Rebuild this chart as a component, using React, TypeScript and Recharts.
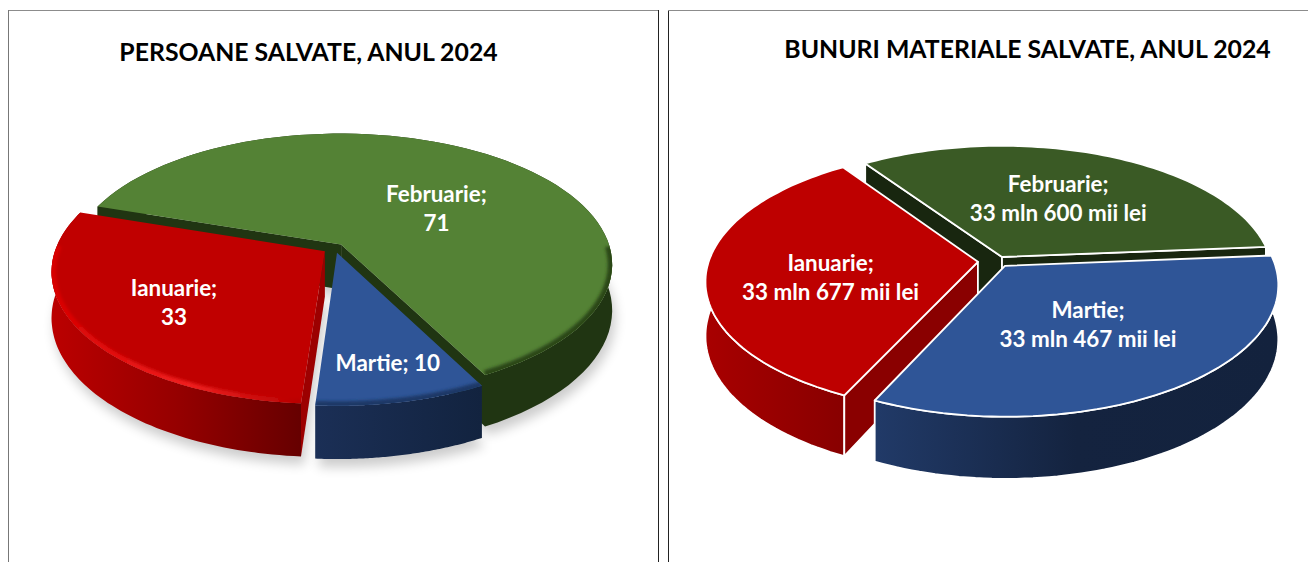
import { PieChart, Pie } from "recharts";

// left chart: persoane salvate
const categories = ["Ianuarie", "Februarie", "Martie"];
const persoane = [33, 71, 10];
const persoaneLabels = [["Ianuarie;", "33"], ["Februarie;", "71"], ["Martie; 10"]];

// right chart: bunuri materiale, in mii lei
const bunuri = [33677, 33600, 33467];
const bunuriLabels = [
  ["Ianuarie;", "33 mln 677 mii lei"],
  ["Februarie;", "33 mln 600 mii lei"],
  ["Martie;", "33 mln 467 mii lei"],
];

// back to front
const drawOrder = ["Februarie", "Ianuarie", "Martie"];

const FONT = "Lato, Carlito, sans-serif";
const RAD = Math.PI / 180;

type Look = {
  squash: number;
  persp: number;
  depth: number;
  explode: Record<string, number>;
  top: Record<string, string>;
  side: Record<string, string>;
  radial: Record<string, string>;
  labelR: Record<string, number>;
  labelNudge: Record<string, [number, number]>;
  labelLines: Record<string, string[]>;
  lineGap: number;
  outline?: string;
  bevel: boolean;
  shadow: boolean;
  id: string;
};

const toRecord = <T,>(vals: T[]) => Object.fromEntries(categories.map((c, i) => [c, vals[i]])) as Record<string, T>;

const leftLook: Look = {
  id: "l",
  squash: 0.478,
  persp: 0.15,
  depth: 45,
  explode: toRecord([0.045, 0.035, 0.037]),
  top: toRecord(["#C00000", "#548235", "#2F5597"]),
  side: toRecord(["url(#lSideRed)", "#203512", "url(#lSideBlue)"]),
  radial: toRecord(["#9c0000", "#203512", "#162a4c"]),
  labelR: toRecord([0.68, 0.52, 0.8]),
  labelNudge: toRecord<[number, number]>([[0, 4], [16, 10], [3, 2]]),
  labelLines: toRecord(persoaneLabels),
  lineGap: 29,
  bevel: true,
  shadow: true,
};

const rightLook: Look = {
  id: "r",
  squash: 0.476,
  persp: 0.142,
  depth: 53,
  explode: toRecord([0.075, 0.035, 0.045]),
  top: toRecord(["#BE0000", "#3A5A25", "#2F5597"]),
  side: toRecord(["url(#rSideRed)", "#18260f", "url(#rSideBlue)"]),
  radial: toRecord(["#8a0000", "#18260f", "#14233f"]),
  labelR: toRecord([0.62, 0.56, 0.56]),
  labelNudge: toRecord<[number, number]>([[0, 11], [0, -1], [-2, 2]]),
  labelLines: toRecord(bunuriLabels),
  lineGap: 29,
  outline: "#ffffff",
  bevel: false,
  shadow: false,
};

const rimColors = toRecord(["url(#lRimRed)", "#2c4619", "#1d3766"]);

function pathOf(pts: number[][]) {
  return "M" + pts.map((p) => `${p[0].toFixed(1)} ${p[1].toFixed(1)}`).join("L") + "Z";
}

// draws one slice as a tilted disc sector with side walls
function sliceShape(look: Look, pass: string) {
  return (props: any) => {
    const { cx, cy, outerRadius: R, startAngle, endAngle, name, payload } = props;
    const cat = name ?? payload?.name;
    const e = look.explode[cat];
    const mid = ((startAngle + endAngle) / 2) * RAD;
    const ox = e * Math.cos(mid);
    const oy = -e * Math.sin(mid);
    const proj = (u: number, v: number, z = 0) => {
      const d = 1 - look.persp * v;
      return [cx + (R * u) / d, cy + (R * look.squash * v) / d + z / d];
    };
    const arc: number[][] = [];
    const arcLow: number[][] = [];
    const front: number[][] = [];
    const n = 80;
    for (let i = 0; i <= n; i++) {
      const a = (startAngle + ((endAngle - startAngle) * i) / n) * RAD;
      const u = ox + Math.cos(a);
      const v = oy - Math.sin(a);
      arc.push(proj(u, v));
      arcLow.push(proj(u, v, look.depth));
      if (v > -0.02) front.push(proj(u, v));
    }
    const tip = proj(ox, oy);
    const tipLow = proj(ox, oy, look.depth);

    if (pass === "shadow") {
      const shifted = [tipLow, ...arcLow].map((p) => [p[0] + 3, p[1] + 8]);
      return <path d={pathOf(shifted)} fill="#000" opacity={0.2} filter="url(#soft)" />;
    }
    if (pass === "label") {
      const lines = look.labelLines[cat];
      const r = look.labelR[cat];
      const [lx, ly] = proj(r * Math.cos(mid), -r * Math.sin(mid));
      const [nx, ny] = look.labelNudge[cat];
      return (
        <text
          x={lx + nx}
          y={ly + ny - ((lines.length - 1) * look.lineGap) / 2 + 7}
          textAnchor="middle"
          fill="#ffffff"
          fontFamily={FONT}
          fontWeight={700}
          fontSize={22.4}
        >
          {lines.map((t, i) => (
            <tspan key={t} x={lx + nx} dy={i === 0 ? 0 : look.lineGap}>
              {t}
            </tspan>
          ))}
        </text>
      );
    }
    if (pass !== cat) return <g />;
    const stroke = look.outline ? { stroke: look.outline, strokeWidth: 1.8, strokeLinejoin: "round" as const } : {};
    // a cut face only shows when it looks towards the viewer
    const startVisible = Math.cos(startAngle * RAD) < 0;
    const endVisible = Math.cos(endAngle * RAD) > 0;
    const clipId = `top-${look.id}-${cat}`;
    const topPath = pathOf([tip, ...arc]);
    return (
      <g>
        <path d={pathOf([...arc, ...arcLow.slice().reverse()])} fill={look.side[cat]} {...stroke} />
        {startVisible && <path d={pathOf([tip, arc[0], arcLow[0], tipLow])} fill={look.radial[cat]} {...stroke} />}
        {endVisible && <path d={pathOf([tip, arc[n], arcLow[n], tipLow])} fill={look.radial[cat]} {...stroke} />}
        <path d={topPath} fill={look.top[cat]} {...stroke} />
        {look.bevel && front.length > 1 && (
          <g clipPath={`url(#${clipId})`}>
            <clipPath id={clipId}>
              <path d={topPath} />
            </clipPath>
            <path
              d={"M" + front.map((p) => `${p[0].toFixed(1)} ${p[1].toFixed(1)}`).join("L")}
              fill="none"
              stroke={rimColors[cat]}
              strokeWidth={9}
              filter="url(#rim)"
            />
          </g>
        )}
      </g>
    );
  };
}

const Defs = () => (
  <defs>
    <filter id="soft" filterUnits="userSpaceOnUse" x="0" y="0" width="660" height="562">
      <feGaussianBlur stdDeviation="6" />
    </filter>
    <filter id="rim" filterUnits="userSpaceOnUse" x="0" y="0" width="660" height="562">
      <feGaussianBlur stdDeviation="1.6" />
    </filter>
    <linearGradient id="lSideRed" x1="0" x2="1" y1="0" y2="0">
      <stop offset="0" stopColor="#bb0000" />
      <stop offset="0.5" stopColor="#960000" />
      <stop offset="1" stopColor="#660000" />
    </linearGradient>
    <linearGradient id="lRimRed" x1="0" x2="1" y1="0" y2="0">
      <stop offset="0" stopColor="#d80000" />
      <stop offset="0.55" stopColor="#f02020" />
      <stop offset="1" stopColor="#b80000" />
    </linearGradient>
    <linearGradient id="lSideBlue" x1="0" x2="1" y1="0" y2="0">
      <stop offset="0" stopColor="#1b2f56" />
      <stop offset="1" stopColor="#12233f" />
    </linearGradient>
    <linearGradient id="rSideRed" x1="0" x2="1" y1="0" y2="0">
      <stop offset="0" stopColor="#a80000" />
      <stop offset="1" stopColor="#880000" />
    </linearGradient>
    <linearGradient id="rSideBlue" x1="0" x2="1" y1="0" y2="0">
      <stop offset="0" stopColor="#213a68" />
      <stop offset="0.5" stopColor="#14233f" />
      <stop offset="1" stopColor="#13223d" />
    </linearGradient>
  </defs>
);

function Pie3D({
  values,
  look,
  title,
  titleX,
  titleY,
  width,
  cx,
  cy,
  startAngle,
}: {
  values: number[];
  look: Look;
  title: string;
  titleX: number;
  titleY: number;
  width: number;
  cx: number;
  cy: number;
  startAngle: number;
}) {
  const data = categories.map((name, i) => ({ name, value: values[i] }));
  const passes = [...(look.shadow ? ["shadow"] : []), ...drawOrder, "label"];
  return (
    <PieChart width={width} height={562} margin={{ top: 0, right: 0, bottom: 0, left: 0 }}>
      <Defs />
      {passes.map((pass) => (
        <Pie
          key={pass}
          data={data}
          dataKey="value"
          nameKey="name"
          cx={cx}
          cy={cy}
          outerRadius={269}
          startAngle={startAngle}
          endAngle={startAngle - 360}
          stroke="none"
          isAnimationActive={false}
          shape={sliceShape(look, pass)}
        />
      ))}
      <text x={titleX} y={titleY} textAnchor="middle" fontFamily={FONT} fontWeight={700} fontSize={24.8} fill="#000">
        {title}
      </text>
    </PieChart>
  );
}

const line = (left: number, top: number, w: number, h: number, background: string) => (
  <div style={{ position: "absolute", left, top, width: w, height: h, background }} />
);

export default function App() {
  return (
    <div style={{ position: "absolute", left: 0, top: 0, width: 1308, height: 562, overflow: "hidden", background: "#fff" }}>
      {line(8, 10, 650, 1, "#8c8c8c")}
      {line(8, 10, 1, 552, "#777")}
      {line(658, 10, 1, 552, "#222")}
      {line(668, 10, 1, 552, "#222")}
      {line(668, 10, 640, 1, "#8c8c8c")}
      <div style={{ position: "absolute", left: 0, top: 0 }}>
        <Pie3D
          values={persoane}
          look={leftLook}
          title="PERSOANE SALVATE, ANUL 2024"
          titleX={308.5}
          titleY={61}
          width={660}
          cx={335}
          cy={248}
          startAngle={266}
        />
      </div>
      <div style={{ position: "absolute", left: 660, top: 0 }}>
        <Pie3D
          values={bunuri}
          look={rightLook}
          title="BUNURI MATERIALE SALVATE, ANUL 2024"
          titleX={367.5}
          titleY={58}
          width={648}
          cx={338}
          cy={261}
          startAngle={245}
        />
      </div>
    </div>
  );
}
